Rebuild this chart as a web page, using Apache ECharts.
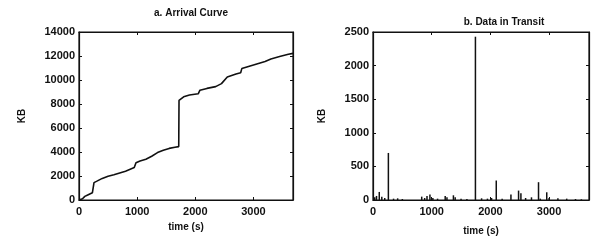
<!DOCTYPE html>
<html>
<head>
<meta charset="utf-8">
<script src="https://cdn.jsdelivr.net/npm/echarts@6/dist/echarts.min.js"></script>
<style>
  html, body { margin: 0; padding: 0; background: #fff; }
  #chart { width: 596px; height: 248px; }
</style>
</head>
<body>
<div id="chart"></div>
<script>
// a. arrival curve (cumulative KB vs time)
const arrivalTime = [0, 60, 100, 150, 230, 255, 258, 300, 400, 500, 600, 700, 800, 900, 950, 980, 1050, 1150, 1250, 1350, 1450, 1550, 1650, 1715, 1720, 1800, 1900, 2050, 2080, 2200, 2350, 2450, 2550, 2700, 2780, 2800, 2900, 3000, 3100, 3200, 3300, 3450, 3600, 3680];
const arrivalKB = [0, 100, 300, 420, 600, 650, 1450, 1550, 1800, 1980, 2100, 2250, 2400, 2600, 2700, 3100, 3250, 3400, 3650, 3950, 4150, 4300, 4400, 4450, 8300, 8600, 8750, 8850, 9150, 9300, 9450, 9700, 10250, 10500, 10600, 10950, 11100, 11250, 11400, 11550, 11750, 11950, 12150, 12220];

// b. data in transit (spikes)
const transitTime = [30, 60, 107, 150, 200, 262, 350, 420, 500, 830, 880, 920, 970, 1020, 1100, 1230, 1260, 1370, 1400, 1500, 1600, 1745, 1850, 1950, 2020, 2100, 2200, 2350, 2480, 2520, 2600, 2700, 2820, 2850, 2960, 3000, 3150, 3300, 3450, 3550];
const transitKB = [40, 60, 120, 50, 30, 700, 20, 25, 15, 50, 30, 60, 80, 30, 20, 60, 40, 70, 40, 20, 15, 2430, 25, 20, 30, 290, 20, 80, 140, 100, 30, 40, 265, 20, 115, 30, 25, 20, 15, 10];

const xTicks = [0, 1000, 2000, 3000];
const leftYTicks = [0, 2000, 4000, 6000, 8000, 10000, 12000, 14000];
const rightYTicks = [0, 500, 1000, 1500, 2000, 2500];

const ink = '#111';
const font = 'Liberation Sans, Arial, sans-serif';
const X_MAX = 3680;

const boxLine = { show: true, onZero: false, lineStyle: { color: ink, width: 1.2 } };
const tick = { show: true, inside: true, length: 3, lineStyle: { color: ink } };

function xAxes(gi, gap) {
  return [
    {
      type: 'value', gridIndex: gi, min: 0, max: X_MAX, interval: 1000,
      name: 'time (s)', nameLocation: 'middle', nameGap: gap,
      nameTextStyle: { color: ink, fontSize: 10, fontWeight: 'bold', fontFamily: font },
      axisLine: boxLine, axisTick: tick,
      axisLabel: {
        color: ink, fontSize: 11, fontWeight: 'bold', fontFamily: font, margin: 6,
        formatter: v => xTicks.includes(v) ? String(v) : ''
      },
      splitLine: { show: false }
    },
    {
      type: 'value', gridIndex: gi, position: 'top', min: 0, max: X_MAX, interval: 1000,
      axisLine: boxLine, axisTick: tick,
      axisLabel: { show: false }, splitLine: { show: false }
    }
  ];
}

function yAxes(gi, ticks, gap) {
  const step = ticks[1] - ticks[0];
  const top = ticks[ticks.length - 1];
  return [
    {
      type: 'value', gridIndex: gi, min: 0, max: top, interval: step,
      name: 'KB', nameLocation: 'middle', nameGap: gap,
      nameTextStyle: { color: ink, fontSize: 10, fontWeight: 'bold', fontFamily: font },
      axisLine: boxLine, axisTick: tick,
      axisLabel: { color: ink, fontSize: 11, fontWeight: 'bold', fontFamily: font, margin: 4,
        formatter: v => String(v) },
      splitLine: { show: false }
    },
    {
      type: 'value', gridIndex: gi, position: 'right', min: 0, max: top, interval: step,
      axisLine: boxLine, axisTick: tick,
      axisLabel: { show: false }, splitLine: { show: false }
    }
  ];
}

const gridBox = { show: true, borderColor: ink, borderWidth: 1.2, backgroundColor: 'transparent' };

const chart = echarts.init(document.getElementById('chart'));
chart.setOption({
  animation: false,
  backgroundColor: '#fff',
  title: [
    { text: 'a. Arrival Curve', left: 186, top: 3, textAlign: 'center',
      textStyle: { color: ink, fontSize: 10, fontWeight: 'bold', fontFamily: font } },
    { text: 'b. Data in Transit', left: 499, top: 12, textAlign: 'center',
      textStyle: { color: ink, fontSize: 10, fontWeight: 'bold', fontFamily: font } }
  ],
  grid: [
    { left: 79, top: 32, width: 214, height: 168, ...gridBox },
    { left: 373, top: 32, width: 216, height: 168, ...gridBox }
  ],
  xAxis: [...xAxes(0, 22), ...xAxes(1, 26)],
  yAxis: [...yAxes(0, leftYTicks, 52), ...yAxes(1, rightYTicks, 46)],
  series: [
    {
      type: 'line', xAxisIndex: 0, yAxisIndex: 0, symbol: 'none',
      lineStyle: { color: ink, width: 1.6 },
      data: arrivalTime.map((t, i) => [t, arrivalKB[i]])
    },
    {
      type: 'bar', xAxisIndex: 2, yAxisIndex: 2, barWidth: 1.5,
      itemStyle: { color: ink },
      data: transitTime.map((t, i) => [t, transitKB[i]])
    }
  ]
});
</script>
</body>
</html>
